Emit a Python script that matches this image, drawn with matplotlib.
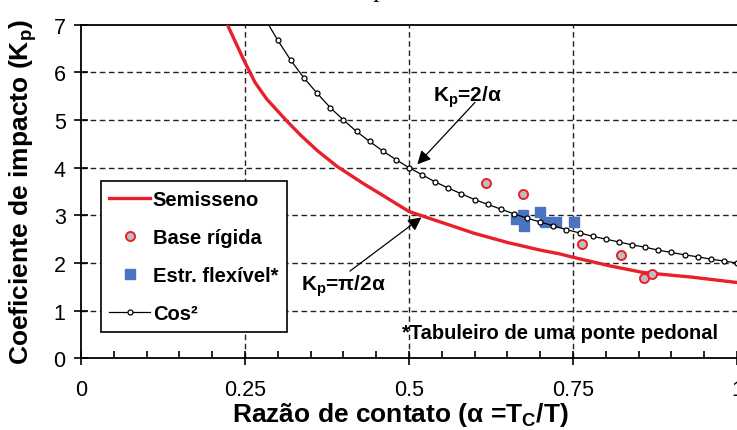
import matplotlib
matplotlib.use("Agg")
import matplotlib.pyplot as plt
from matplotlib.ticker import MultipleLocator, FixedLocator, FixedFormatter

plt.rcParams['font.family'] = ['Liberation Sans', 'DejaVu Sans']
plt.rcParams['mathtext.fontset'] = 'custom'
plt.rcParams['mathtext.rm'] = 'Liberation Sans'
plt.rcParams['mathtext.bf'] = 'Liberation Sans:bold'
plt.rcParams['mathtext.default'] = 'bf'

# Semisseno (half-sine) curve
semi_alpha = [0.2195, 0.2474, 0.2576, 0.2652, 0.2831, 0.3136, 0.335, 0.360, 0.390,
              0.430, 0.461, 0.500, 0.550, 0.600, 0.650, 0.700, 0.730, 0.750, 0.806,
              0.857, 0.933, 1.000]
semi_kp = [7.11, 6.28, 6.00, 5.79, 5.44, 4.98, 4.68, 4.36, 4.03,
           3.67, 3.41, 3.08, 2.85, 2.62, 2.43, 2.27, 2.19, 2.12, 1.94,
           1.80, 1.70, 1.59]

# Cos^2 curve (Kp = 2/alpha), sampled every 0.02
cos_alpha = [0.28, 0.30, 0.32, 0.34, 0.36, 0.38, 0.40, 0.42, 0.44, 0.46,
             0.48, 0.50, 0.52, 0.54, 0.56, 0.58, 0.60, 0.62, 0.64, 0.66,
             0.68, 0.70, 0.72, 0.74, 0.76, 0.78, 0.80, 0.82, 0.84, 0.86,
             0.88, 0.90, 0.92, 0.94, 0.96, 0.98, 1.00]
cos_kp = [7.14, 6.67, 6.25, 5.88, 5.56, 5.26, 5.00, 4.76, 4.55, 4.35,
          4.17, 4.00, 3.85, 3.70, 3.57, 3.45, 3.33, 3.23, 3.13, 3.03,
          2.94, 2.86, 2.78, 2.70, 2.63, 2.56, 2.50, 2.44, 2.38, 2.33,
          2.27, 2.22, 2.17, 2.13, 2.08, 2.04, 2.00]

# measured points
rigid_alpha = [0.617, 0.674, 0.763, 0.823, 0.858, 0.871]
rigid_kp = [3.67, 3.44, 2.40, 2.17, 1.69, 1.76]

flex_alpha = [0.663, 0.674, 0.676, 0.700, 0.708, 0.724, 0.752]
flex_kp = [2.93, 3.00, 2.78, 3.06, 2.86, 2.86, 2.86]

x_ticks = [0, 0.25, 0.5, 0.75, 1.0]
x_labels = ['0', '0.25', '0.5', '0.75', '1']

fig = plt.figure(figsize=(7.37, 4.31), dpi=100)
ax = fig.add_axes([0.1099, 0.1664, 0.8901, 0.774])

ax.plot(semi_alpha, semi_kp, color='#e8202a', lw=2.4, label='Semisseno', zorder=3)
ax.plot(rigid_alpha, rigid_kp, 'o', ms=6.5, mfc='#bdbdbd', mec='#e8202a', mew=1.4,
        ls='none', label='Base rígida', zorder=5)
ax.plot(flex_alpha, flex_kp, 's', ms=7.5, color='#4a74c0', ls='none',
        label='Estr. flexível*', zorder=4)
ax.plot(cos_alpha, cos_kp, '-o', color='black', lw=0.9, ms=3.6, mfc='white',
        mec='black', mew=0.9, label='Cos²', zorder=6)

ax.set_xlim(0, 1)
ax.set_ylim(0, 7)

# dashed grid only at the major positions
for gx in [0.25, 0.5, 0.75]:
    ax.axvline(gx, color='#222222', lw=1.0, ls=(0, (4, 2.6)), zorder=1)
for gy in range(1, 7):
    ax.axhline(gy, color='#222222', lw=1.0, ls=(0, (4, 2.6)), zorder=1)

ax.xaxis.set_major_locator(FixedLocator(x_ticks))
ax.xaxis.set_major_formatter(FixedFormatter(x_labels))
ax.xaxis.set_minor_locator(MultipleLocator(0.05))
ax.yaxis.set_major_locator(MultipleLocator(1))
ax.tick_params(axis='x', which='major', direction='inout', length=10, width=1.2,
               labelsize=15.5, pad=10)
ax.tick_params(axis='x', which='minor', direction='in', length=5, width=1.2)
ax.tick_params(axis='y', which='major', direction='inout', length=10, width=1.2,
               labelsize=15.5, pad=6)

ax.spines['right'].set_visible(False)
for side in ['left', 'bottom', 'top']:
    ax.spines[side].set_linewidth(1.3)

ax.set_xlabel('Razão de contato (α =T$_\\mathbf{C}$/T)', fontsize=19, fontweight='bold')
ax.xaxis.set_label_coords(0.487, -0.125)
ax.set_ylabel('Coeficiente de impacto (K$_\\mathbf{p}$)', fontsize=19, fontweight='bold')
ax.yaxis.set_label_coords(-0.064, 0.5)

# annotations
ax.annotate('', xy=(0.5127, 4.07), xytext=(0.6006, 5.37),
            arrowprops=dict(arrowstyle='-|>', color='black', lw=0.9,
                            mutation_scale=20, shrinkA=0, shrinkB=0), zorder=7)
ax.text(0.537, 5.5, 'K$_\\mathbf{p}$=2/α', fontsize=15, fontweight='bold', va='center')
ax.annotate('', xy=(0.519, 2.956), xytext=(0.410, 1.83),
            arrowprops=dict(arrowstyle='-|>', color='black', lw=0.9,
                            mutation_scale=20, shrinkA=0, shrinkB=0), zorder=7)
ax.text(0.336, 1.54, 'K$_\\mathbf{p}$=π/2α', fontsize=15, fontweight='bold', va='center',
        zorder=8)
ax.text(0.489, 0.55, '*Tabuleiro de uma ponte pedonal', fontsize=14.5, fontweight='bold',
        va='center')

leg = ax.legend(loc='upper left', bbox_to_anchor=(0.0305, 0.5306), borderaxespad=0,
                fancybox=False, edgecolor='black', framealpha=1,
                prop={'weight': 'bold', 'size': 14.5}, handlelength=2.0,
                handletextpad=0.15, labelspacing=0.95, borderpad=0.42)
leg.get_frame().set_linewidth(1.2)
leg.set_zorder(9)

# cropped caption glyph at the very top
fig.text(0.516, 1.006, 'p', fontsize=18, style='italic', family='Liberation Serif',
         va='baseline', ha='center')

fig.savefig('out.png', dpi=100)
